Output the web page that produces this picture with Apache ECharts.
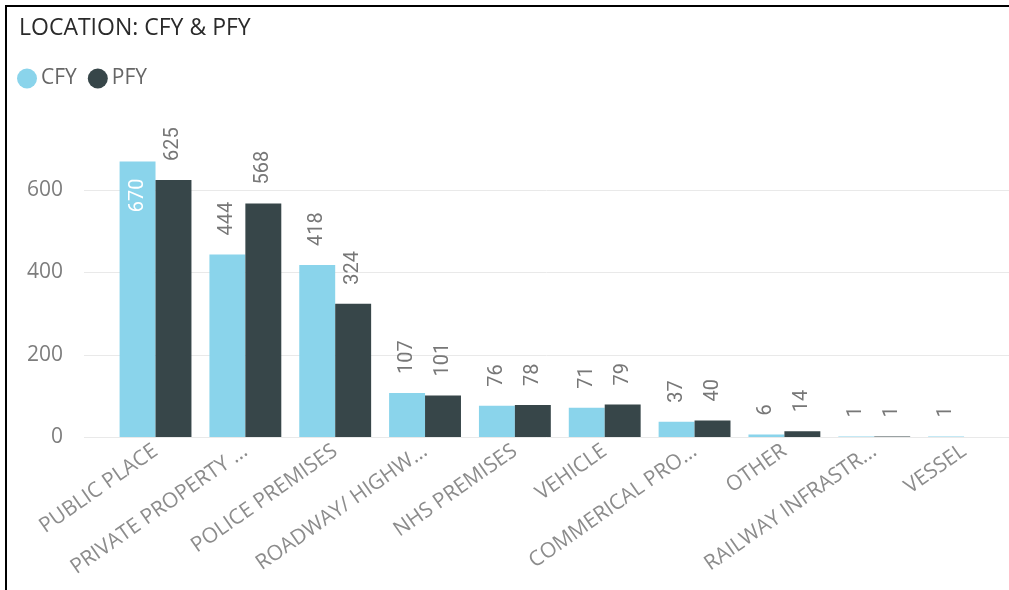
<!DOCTYPE html>
<html>
<head>
<meta charset="utf-8">
<script src="https://cdn.jsdelivr.net/npm/echarts@6/dist/echarts.min.js"></script>
<style>
  html, body { margin: 0; padding: 0; background: #fff; }
  #frame { position: absolute; left: 5px; top: 5px; width: 1004px; height: 585px;
           border-left: 2px solid #000; border-top: 2px solid #000; box-sizing: border-box; }
  #chart { position: absolute; left: 0; top: 0; width: 1009px; height: 590px; }
</style>
</head>
<body>
<div id="frame"></div>
<div id="chart"></div>
<script>
// Location breakdown, current vs previous financial year
const categories = [
  'PUBLIC PLACE', 'PRIVATE PROPERTY ...', 'POLICE PREMISES', 'ROADWAY/ HIGHW...',
  'NHS PREMISES', 'VEHICLE', 'COMMERICAL PRO...', 'OTHER', 'RAILWAY INFRASTR...', 'VESSEL'
];
const cfyValues = [670, 444, 418, 107, 76, 71, 37, 6, 1, 1];
const pfyValues = [625, 568, 324, 101, 78, 79, 40, 14, 1, null];
const yTicks = { min: 0, max: 800, interval: 200 };

const CFY_COLOR = '#8AD4EB';
const PFY_COLOR = '#374649';
const labelFont = 'Roboto, "DejaVu Sans", sans-serif';
const uiFont = '"Open Sans", "Noto Sans", sans-serif';

// values that would push the label above the plot get it drawn inside the bar
const insideLabelFrom = 650;

function toData(values) {
  return values.map(v => {
    if (v == null) return null;
    if (v >= insideLabelFrom) {
      return { value: v, label: { position: 'insideTop', align: 'right', color: '#ffffff', distance: 17 } };
    }
    return v;
  });
}

const barLabel = {
  show: true,
  position: 'top',
  rotate: 90,
  align: 'left',
  verticalAlign: 'middle',
  distance: 19,
  color: '#777777',
  fontSize: 20,
  fontFamily: labelFont
};

const chart = echarts.init(document.getElementById('chart'), null, { renderer: 'canvas' });

chart.setOption({
  animation: false,
  title: {
    text: 'LOCATION: CFY & PFY',
    left: 14, top: 12,
    textStyle: { fontSize: 23, fontWeight: 'normal', color: '#2a2a2a', fontFamily: uiFont }
  },
  legend: {
    left: 17, top: 68, padding: 0,
    icon: 'circle', itemWidth: 20, itemHeight: 20, itemGap: 11,
    textStyle: { fontSize: 21, color: '#666666', fontFamily: uiFont, padding: [0, 0, 0, -1] },
    data: ['CFY', 'PFY']
  },
  grid: [
    // value scale with gridlines
    { left: 84, right: 0, top: 108, bottom: 153 },
    // category bands for the bars
    { left: 110.6, width: 908, top: 108, bottom: 153 }
  ],
  xAxis: [
    { type: 'value', gridIndex: 0, show: false, min: 0, max: 1 },
    {
      type: 'category', gridIndex: 1, data: categories,
      axisLine: { show: false }, axisTick: { show: false },
      axisLabel: { interval: 0, rotate: 35, margin: 12, fontSize: 21, color: '#8c8c8c', fontFamily: uiFont }
    }
  ],
  yAxis: [
    {
      type: 'value', gridIndex: 0, min: yTicks.min, max: yTicks.max, interval: yTicks.interval,
      axisLine: { show: false }, axisTick: { show: false },
      axisLabel: { margin: 21, fontSize: 21, color: '#7d7d7d', fontFamily: uiFont, showMaxLabel: false },
      splitLine: { show: true, showMaxLine: false, lineStyle: { color: '#e9e9e9', width: 1 } }
    },
    {
      type: 'value', gridIndex: 1, min: yTicks.min, max: yTicks.max, interval: yTicks.interval,
      show: false, splitLine: { show: false }
    }
  ],
  series: [
    {
      name: 'CFY', type: 'bar', xAxisIndex: 1, yAxisIndex: 1,
      data: toData(cfyValues), barGap: '0%', barCategoryGap: '20%',
      itemStyle: { color: CFY_COLOR }, label: barLabel
    },
    {
      name: 'PFY', type: 'bar', xAxisIndex: 1, yAxisIndex: 1,
      data: toData(pfyValues), barGap: '0%', barCategoryGap: '20%',
      itemStyle: { color: PFY_COLOR }, label: barLabel
    }
  ]
});
</script>
</body>
</html>
